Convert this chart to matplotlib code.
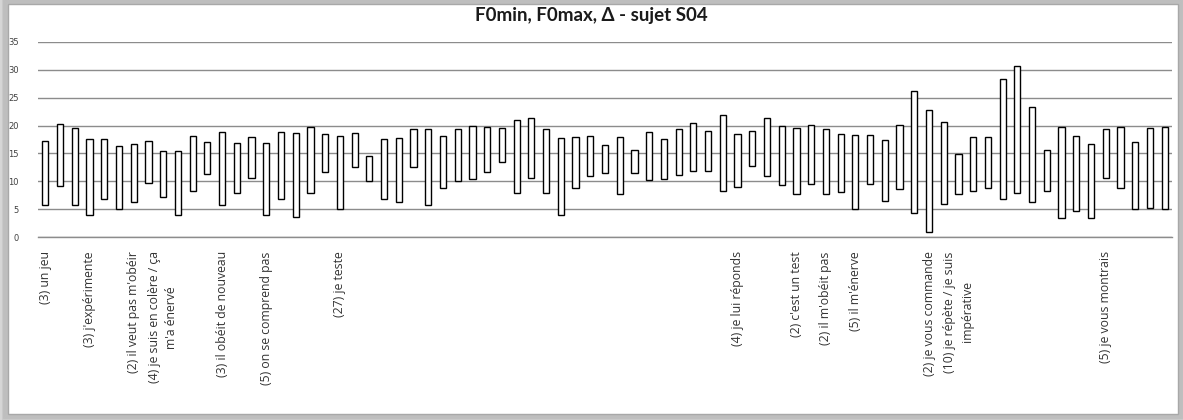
import numpy as np
import matplotlib.pyplot as plt
from matplotlib.patches import Rectangle

# groups of utterances: label and number of bars in the group
group_names = ["(3) un jeu", "(3) j'expérimente", "(2) il veut pas m'obéir",
               "(4) je suis en colère / ça\nm'a énervé", "(3) il obéit de nouveau",
               "(5) on se comprend pas", "(27) je teste", "(4) je lui réponds",
               "(2) c'est un test", "(2) il m'obéit pas", "(5) il m'énerve",
               "(2) je vous commande", "(10) je répète / je suis\nimpérative",
               "(5) je vous montrais"]
group_sizes = [3, 3, 2, 4, 3, 5, 27, 4, 2, 2, 5, 2, 10, 5]

f0_max = [17.3, 20.3, 19.5, 17.6, 17.6, 16.4, 16.7, 17.3, 15.5, 15.5, 18.2, 17.1, 18.9,
          16.9, 18.0, 16.9, 18.9, 18.7, 19.8, 18.5, 18.2, 18.7, 14.6, 17.6, 17.7, 19.4,
          19.4, 18.2, 19.4, 20.0, 19.8, 19.5, 20.9, 21.4, 19.4, 17.7, 18.0, 18.2, 16.6,
          18.0, 15.7, 18.9, 17.6, 19.4, 20.5, 19.1, 21.9, 18.5, 19.1, 21.4, 20.0, 19.5,
          20.1, 19.4, 18.5, 18.3, 18.3, 17.4, 20.1, 26.1, 22.8, 20.7, 14.9, 18.0, 18.0,
          28.3, 30.7, 23.3, 15.7, 19.8, 18.2, 16.7, 19.4, 19.8, 17.1, 19.5, 19.8]
f0_min = [5.8, 9.2, 5.8, 4.0, 6.8, 5.0, 6.3, 9.7, 7.2, 4.0, 8.3, 11.3, 5.8,
          8.0, 10.6, 4.0, 6.8, 3.6, 8.0, 11.7, 5.1, 12.6, 10.1, 6.8, 6.3, 12.6,
          5.8, 8.8, 10.1, 10.4, 11.7, 13.5, 8.0, 10.6, 8.0, 4.0, 8.8, 11.0, 11.5,
          7.8, 11.5, 10.3, 10.4, 11.2, 11.9, 11.9, 8.3, 9.0, 12.8, 11.0, 9.4, 7.8,
          9.5, 7.7, 8.1, 5.0, 9.5, 6.5, 8.6, 4.3, 0.9, 5.9, 7.7, 8.3, 8.8,
          6.9, 7.9, 6.4, 8.3, 3.4, 4.7, 3.4, 10.6, 8.8, 5.0, 5.2, 5.0]
y_ticks = [0, 5, 10, 15, 20, 25, 30, 35]

# one category per bar, named only at the start of each group
categories = []
for name, n in zip(group_names, group_sizes):
    categories += [name] + [""] * (n - 1)

f0_max = np.array(f0_max)
f0_min = np.array(f0_min)
x = np.arange(len(categories))

W, H = 1183, 420
fig = plt.figure(figsize=(W / 100, H / 100), dpi=100, facecolor="#d6d6d6")

# chart frame with a soft shadow
for i in range(6):
    fig.patches.append(Rectangle(((8 - i) / W, (6 - i) / H), (1170 + 2 * i) / W, (410 + 2 * i) / H,
                                 transform=fig.transFigure, facecolor="none",
                                 edgecolor="#9a9a9a", alpha=0.2, lw=1.5, zorder=-10))
fig.patches.append(Rectangle((8 / W, 6 / H), 1170 / W, 410 / H, transform=fig.transFigure,
                             facecolor="white", edgecolor="#a8a8a8", lw=1, zorder=-9))

ax = fig.add_axes([38 / W, 1 - 237.3 / H, (1172 - 38) / W, (237.3 - 41.7) / H])
ax.set_zorder(1)
ax.set_facecolor("none")

ax.bar(x, f0_max - f0_min, bottom=f0_min, width=0.42, color="white",
       edgecolor="black", linewidth=1.0, zorder=3)

ax.set_xlim(-0.5, len(categories) - 0.5)
ax.set_ylim(0, 35)
ax.set_yticks(y_ticks)
ax.set_yticklabels([str(v) for v in y_ticks], fontsize=6, color="#404040")
ax.yaxis.grid(True, color="#8c8c8c", linewidth=1.0, zorder=0)
ax.set_axisbelow(True)

ax.set_xticks(x)
ax.set_xticklabels(categories, rotation=90, fontsize=8.8, color="#333333",
                   family="Open Sans", linespacing=1.45, multialignment="center")
ax.tick_params(axis="x", length=0, pad=10)
ax.tick_params(axis="y", length=0, pad=14)
for s in ax.spines.values():
    s.set_visible(False)
ax.spines["bottom"].set_visible(True)
ax.spines["bottom"].set_color("#8c8c8c")
ax.spines["bottom"].set_linewidth(1.0)

fig.text(0.5, 1 - 15 / H, "F0min, F0max, Δ - sujet S04", ha="center", va="center",
         fontsize=13.5, fontweight="bold", family="Lato", color="#1a1a1a", zorder=2)

fig.savefig("out.png", dpi=100, facecolor=fig.get_facecolor())
